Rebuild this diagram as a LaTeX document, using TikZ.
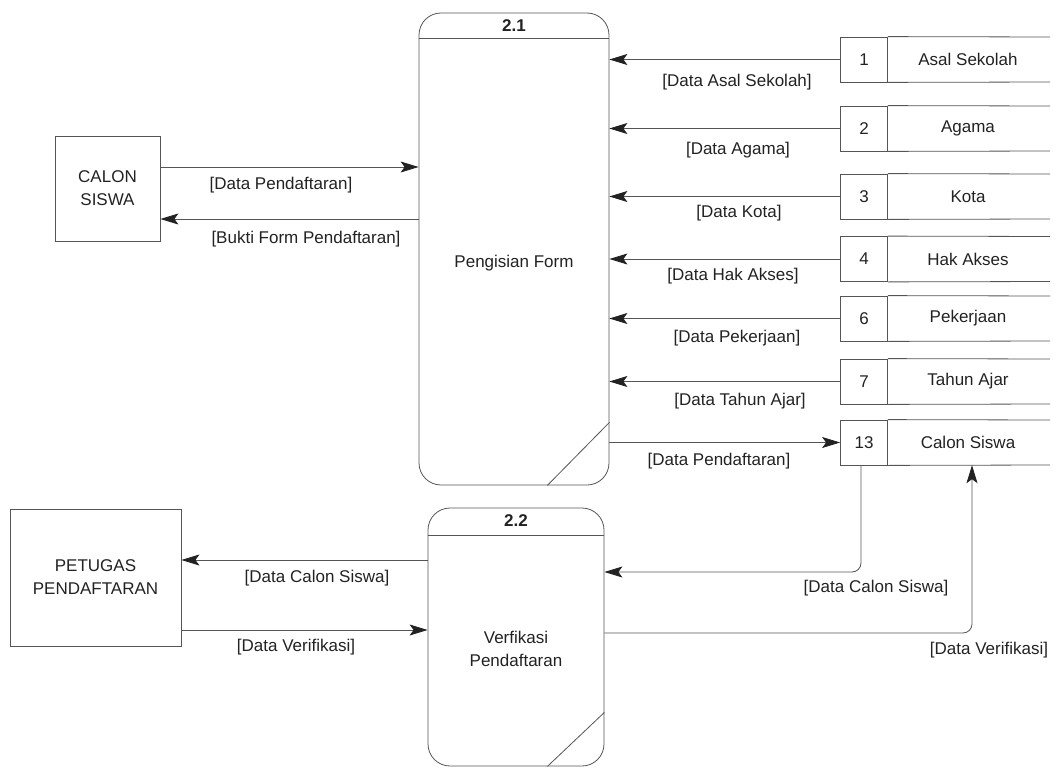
\documentclass[tikz,border=0pt]{standalone}
\usepackage{fontspec}
\setmainfont{Liberation Sans}
\usetikzlibrary{arrows.meta,calc}
\definecolor{ln}{HTML}{555555}
\definecolor{tx}{HTML}{222222}
\definecolor{tip}{HTML}{222222}
\tikzset{
  base/.style={line width=0.8pt, draw=ln},
  ent/.style={base, rectangle, inner sep=0pt, text=tx, align=center},
  proc/.style={base, rectangle, rounded corners=22pt, inner sep=0pt},
  num/.style={base, rectangle, minimum width=47pt, minimum height=45pt, inner sep=0pt, text=tx},
  sname/.style={rectangle, minimum width=161pt, minimum height=45pt, inner sep=0pt, text=tx},
  flow/.style={base, -{Stealth[length=18pt, width=11pt, inset=4pt, color=tip, fill=tip]}, rounded corners=9pt},
  lbl/.style={text=tx, inner sep=0pt},
  ptxt/.style={text=tx, inner sep=0pt, align=center}
}
\begin{document}
\begin{tikzpicture}[x=1pt, y=-1pt, font=\fontsize{17}{23}\selectfont]
\useasboundingbox (0,0) rectangle (1055,768);
% processes
\node[proc, minimum width=190pt, minimum height=472pt] (p21) at (514,249) {};
\draw[base] ($(p21.north west)+(0,26)$) -- ($(p21.north east)+(0,26)$);
\draw[base] ($(p21.south east)+(0,-63)$) -- ($(p21.south east)+(-62,0)$);
\node[ptxt] (p21n) at (514,26) {\textbf{2.1}};
\node[ptxt] (p21t) at (514,263) {Pengisian Form};

\node[proc, minimum width=176pt, minimum height=258pt] (p22) at (516,637) {};
\draw[base] ($(p22.north west)+(0,28)$) -- ($(p22.north east)+(0,28)$);
\draw[base] ($(p22.south east)+(0,-54)$) -- ($(p22.south east)+(-57,0)$);
\node[ptxt] (p22n) at (516,521) {\textbf{2.2}};
\node[ptxt] (p22t) at (516,649) {Verfikasi\\Pendaftaran};

% external entities
\node[ent, minimum width=105pt, minimum height=105pt] (cs) at (107.5,188.5) {CALON\\SISWA};
\node[ent, minimum width=171pt, minimum height=137pt] (pp) at (95.5,577.5) {PETUGAS\\PENDAFTARAN};

% data stores
\foreach \id/\n/\name/\y in {s1/1/Asal Sekolah/59.5, s2/2/Agama/128.5, s3/3/Kota/196.5, s4/4/Hak Akses/259, s6/6/Pekerjaan/318.5, s7/7/Tahun Ajar/381.5, s13/13/Calon Siswa/442.5}{
  \node[num] (\id n) at (864,\y) {\n};
  \node[sname] (\id) at (968,\y) {\name};
  \coordinate (\id a) at (1050,\y-22.5);
  \coordinate (\id b) at (1050,\y+22.5);
  \draw[base] (\id n.north east) -- (\id a);
  \draw[base] (\id n.south east) -- (\id b);
}

% flows from stores to 2.1
\foreach \id in {s1,s2,s3,s4,s6,s7}{
  \draw[flow] (\id n.west) -- (\id n.west -| p21.east);
}
\node[lbl] (l1) at (737,82) {[Data Asal Sekolah]};
\node[lbl] (l2) at (738,150) {[Data Agama]};
\node[lbl] (l3) at (739,213) {[Data Kota]};
\node[lbl] (l4) at (733,276) {[Data Hak Akses]};
\node[lbl] (l6) at (737,338) {[Data Pekerjaan]};
\node[lbl] (l7) at (740,401) {[Data Tahun Ajar]};

% 2.1 -> store 13
\draw[flow] (s13n.west -| p21.east) -- (s13n.west);
\node[lbl] (l13) at (719,461) {[Data Pendaftaran]};

% calon siswa <-> 2.1
\draw[flow] ([yshift=21.5pt]cs.east) -- ([yshift=21.5pt]cs.east -| p21.west);
\node[lbl] (lc1) at (281,185) {[Data Pendaftaran]};
\draw[flow] ([yshift=-30.5pt]cs.east -| p21.west) -- ([yshift=-30.5pt]cs.east);
\node[lbl] (lc2) at (306,239) {[Bukti Form Pendaftaran]};

% petugas <-> 2.2
\draw[flow] ([yshift=17.5pt]pp.east -| p22.west) -- ([yshift=17.5pt]pp.east);
\node[lbl] (lp1) at (317,578) {[Data Calon Siswa]};
\draw[flow] ([yshift=-52.5pt]pp.east) -- ([yshift=-52.5pt]pp.east -| p22.west);
\node[lbl] (lp2) at (296,647) {[Data Verifikasi]};

% store 13 <-> 2.2
\coordinate (c1) at (861,572);
\draw[flow] (s13n.south -| c1) -- (c1) -- (c1 -| p22.east);
\node[lbl] (lr1) at (876,588) {[Data Calon Siswa]};
\coordinate (c2) at (972,633);
\draw[flow] (c2 -| p22.east) -- (c2) -- (c2 |- s13.south);
\node[lbl] (lr2) at (989,650) {[Data Verifikasi]};
\end{tikzpicture}
\end{document}
